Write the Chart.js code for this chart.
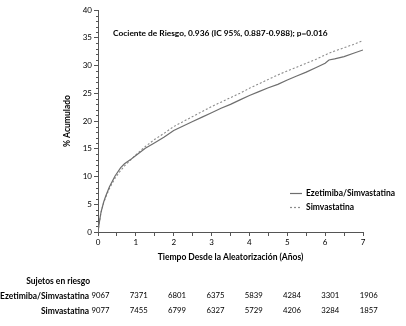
<!DOCTYPE html>
<html><head><meta charset="utf-8">
<script src="https://cdn.jsdelivr.net/npm/chart.js@4"></script>
<style>html,body{margin:0;padding:0;background:#fff}canvas{display:block}</style>
</head><body>
<canvas id="c" width="406" height="326"></canvas>
<script>
const years = [0,0.03,0.08,0.15,0.2,0.3,0.45,0.6,0.7,0.85,1,1.25,1.5,1.75,2,2.25,2.5,2.75,3,3.25,3.5,3.75,4,4.25,4.5,4.75,5,5.25,5.5,5.75,6,6.1,6.25,6.5,6.75,7];
const ezetimibaSimva = [0,1.5,3.6,5.4,6.4,8.1,10.1,11.6,12.3,13.0,13.8,15.1,16.1,17.1,18.3,19.1,19.9,20.7,21.5,22.3,23.0,23.8,24.6,25.3,26.0,26.6,27.4,28.1,28.8,29.6,30.4,31.0,31.2,31.6,32.2,32.8];
const simvastatina = [0,1.5,3.5,5.3,6.2,7.8,9.7,11.1,11.9,12.9,13.9,15.4,16.7,17.8,19.0,19.9,20.8,21.7,22.6,23.4,24.2,25.0,25.9,26.7,27.5,28.3,29.0,29.7,30.4,31.1,31.9,32.2,32.6,33.2,33.8,34.5];
const seriesNames = ['Ezetimiba/Simvastatina','Simvastatina'];
const riskYears = [0,1,2,3,4,5,6,7];
const riskEze = [9067,7371,6801,6375,5839,4284,3301,1906];
const riskSimva = [9077,7455,6799,6327,5729,4206,3284,1857];
const annotationText = 'Cociente de Riesgo, 0.936 (IC 95%, 0.887-0.988); p=0.016';
const xTitle = 'Tiempo Desde la Aleatorización (Años)';
const yTitle = '% Acumulado';
const riskTitle = 'Sujetos en riesgo';

const FONT = 'Lato, "Open Sans", sans-serif';
const toPts = (xs, ys) => xs.map((x, i) => ({x, y: ys[i]}));

function fitFont(ctx, text, width, weight) {
  ctx.font = weight + ' 10px ' + FONT;
  const w = ctx.measureText(text).width;
  const size = 10 * width / w;
  ctx.font = weight + ' ' + size.toFixed(2) + 'px ' + FONT;
}

const overlay = {
  id: 'overlay',
  afterDraw(chart) {
    const ctx = chart.ctx;
    const xs = chart.scales.x, ys = chart.scales.y;
    ctx.save();
    // minor y ticks
    ctx.strokeStyle = '#555';
    ctx.lineWidth = 1;
    for (let v = 0; v <= 40; v++) {
      if (v % 5 === 0) continue;
      const py = Math.round(ys.getPixelForValue(v)) + 0.5;
      ctx.beginPath();
      ctx.moveTo(xs.left - 2, py);
      ctx.lineTo(xs.left, py);
      ctx.stroke();
    }
    ctx.fillStyle = '#000';
    ctx.textBaseline = 'middle';
    // annotation
    ctx.textAlign = 'left';
    fitFont(ctx, annotationText, 215, 'bold');
    ctx.fillText(annotationText, 113, 33);
    // x title
    ctx.textAlign = 'center';
    fitFont(ctx, xTitle, 146, 'bold');
    ctx.fillText(xTitle, (xs.left + xs.right) / 2, 257);
    // y title
    ctx.save();
    ctx.translate(67, (ys.top + ys.bottom) / 2);
    ctx.rotate(-Math.PI / 2);
    fitFont(ctx, yTitle, 52, 'bold');
    ctx.fillText(yTitle, 0, 0);
    ctx.restore();
    // legend
    ctx.textAlign = 'left';
    ctx.strokeStyle = '#6e6e6e';
    ctx.lineWidth = 1.2;
    ctx.beginPath(); ctx.moveTo(290, 193.5); ctx.lineTo(302, 193.5); ctx.stroke();
    ctx.strokeStyle = '#8c8c8c';
    ctx.setLineDash([2, 2]);
    ctx.beginPath(); ctx.moveTo(290, 207.5); ctx.lineTo(302, 207.5); ctx.stroke();
    ctx.setLineDash([]);
    fitFont(ctx, seriesNames[0], 89, 'bold');
    ctx.fillText(seriesNames[0], 306, 193);
    ctx.fillText(seriesNames[1], 306, 207);
    // risk table
    ctx.textAlign = 'right';
    fitFont(ctx, seriesNames[0], 89, 'bold');
    const labFont = ctx.font;
    ctx.fillText(seriesNames[0], 89, 296);
    ctx.fillText(seriesNames[1], 89, 311);
    ctx.fillText(riskTitle, 90, 281);
    ctx.font = labFont.replace('bold', 'normal');
    fitFont(ctx, '9067', 18, 'normal');
    ctx.textAlign = 'center';
    riskYears.forEach((t, i) => {
      const px = xs.getPixelForValue(t) + 2.5 + i * 0.45;
      ctx.fillText(String(riskEze[i]), px, 296);
      ctx.fillText(String(riskSimva[i]), px, 311);
    });
    ctx.restore();
  }
};

new Chart(document.getElementById('c'), {
  type: 'line',
  data: {
    datasets: [
      { label: seriesNames[0], data: toPts(years, ezetimibaSimva), borderColor: '#6e6e6e', borderWidth: 1.2, pointRadius: 0, tension: 0, fill: false },
      { label: seriesNames[1], data: toPts(years, simvastatina), borderColor: '#8c8c8c', borderWidth: 1.1, borderDash: [2, 2], pointRadius: 0, tension: 0, fill: false }
    ]
  },
  options: {
    responsive: false,
    animation: false,
    events: [],
    layout: { padding: { left: 0, right: 43, top: 10, bottom: 0 } },
    plugins: { legend: { display: false }, tooltip: { enabled: false }, title: { display: false } },
    scales: {
      x: {
        type: 'linear', min: 0, max: 7,
        afterFit(s) { s.height = 94; },
        border: { color: '#555', width: 1 },
        grid: { drawOnChartArea: false, tickLength: 4, color: '#555' },
        ticks: { stepSize: 0.5, autoSkip: false, maxRotation: 0, padding: 2, color: '#000',
          font: { family: FONT, size: 8 },
          callback: v => Number.isInteger(v) ? String(v) : '' }
      },
      y: {
        type: 'linear', min: 0, max: 40,
        afterFit(s) { s.width = 98; },
        border: { color: '#555', width: 1 },
        grid: { drawOnChartArea: false, tickLength: 4, color: '#555' },
        ticks: { stepSize: 5, padding: 2, color: '#000', font: { family: FONT, size: 8 } }
      }
    }
  },
  plugins: [overlay]
});
</script>
</body></html>
